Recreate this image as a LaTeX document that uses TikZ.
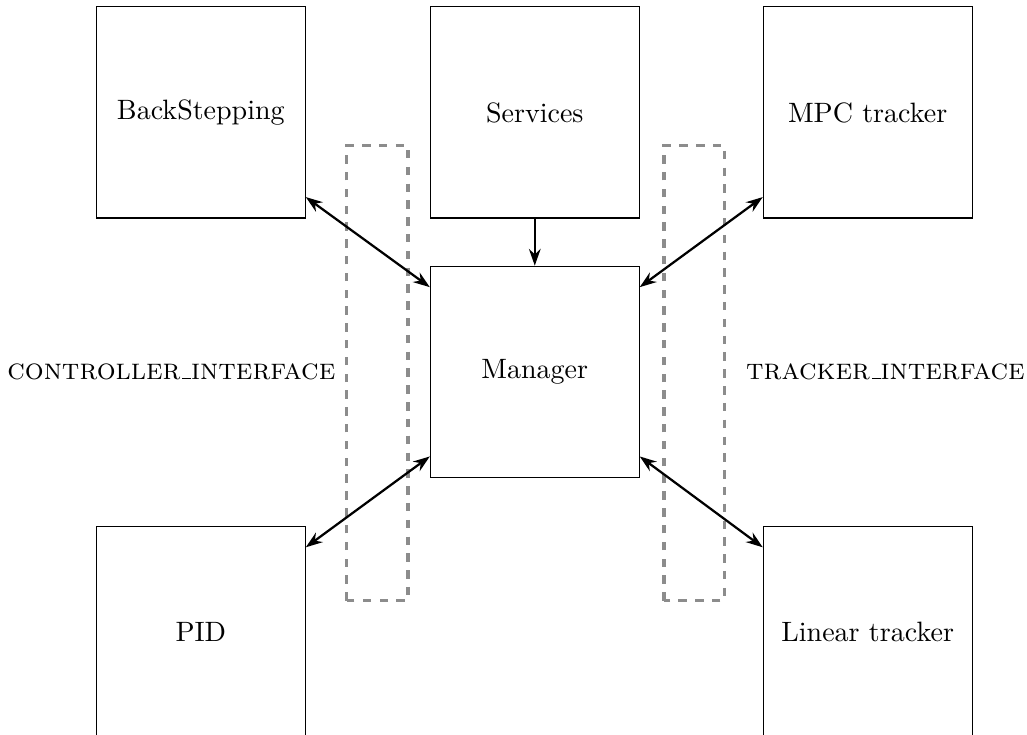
\documentclass[tikz,border=0pt]{standalone}
\usetikzlibrary{positioning, arrows.meta}

% short underscore for the interface names
\newcommand{\lowbar}{\kern.06em\vbox{\hrule width .3em}}

\tikzset{
  block/.style={draw, thin, minimum width=2.62cm, minimum height=2.65cm, align=center},
  iface/.style={draw=gray!90, very thick, dashed},
  ifacelabel/.style={font=\fontsize{10.6}{12}\selectfont\scshape},
  link/.style={thick, >={Stealth[length=6pt, width=4.2pt, inset=2pt]}},
}

\begin{document}
\begin{tikzpicture}
% Fix the page size
\useasboundingbox (-6.71,-4.545) rectangle (6.176,4.665);

% Manager in the middle, modules around it
\node[block] (mgr) at (0,0) {Manager};
\node[block, above=0.59cm of mgr] (srv) {Services};
\node[block, above left=0.59cm and 1.556cm of mgr] (bs) {BackStepping};
\node[block, above right=0.59cm and 1.543cm of mgr] (mpc) {MPC tracker};
\node[block, below left=0.6cm and 1.556cm of mgr] (pid) {PID};
\node[block, below right=0.6cm and 1.543cm of mgr] (lin) {Linear tracker};

% Interface frames
\draw[iface] (-2.36,-2.87) rectangle (-1.59,2.84);
\draw[iface] (1.62,-2.87) rectangle (2.38,2.84);
\node[ifacelabel] (ctrl) at (-4.56,0) {controller\lowbar interface};
\node[ifacelabel] (trk) at (4.40,0) {tracker\lowbar interface};

% Connections to the manager
\draw[link, ->] (srv) -- (mgr);
\draw[link, <->] ([yshift=0.27cm]bs.south east) -- ([yshift=-0.27cm]mgr.north west);
\draw[link, <->] ([yshift=0.27cm]mpc.south west) -- ([yshift=-0.27cm]mgr.north east);
\draw[link, <->] ([yshift=-0.27cm]pid.north east) -- ([yshift=0.27cm]mgr.south west);
\draw[link, <->] ([yshift=-0.27cm]lin.north west) -- ([yshift=0.27cm]mgr.south east);
\end{tikzpicture}
\end{document}
